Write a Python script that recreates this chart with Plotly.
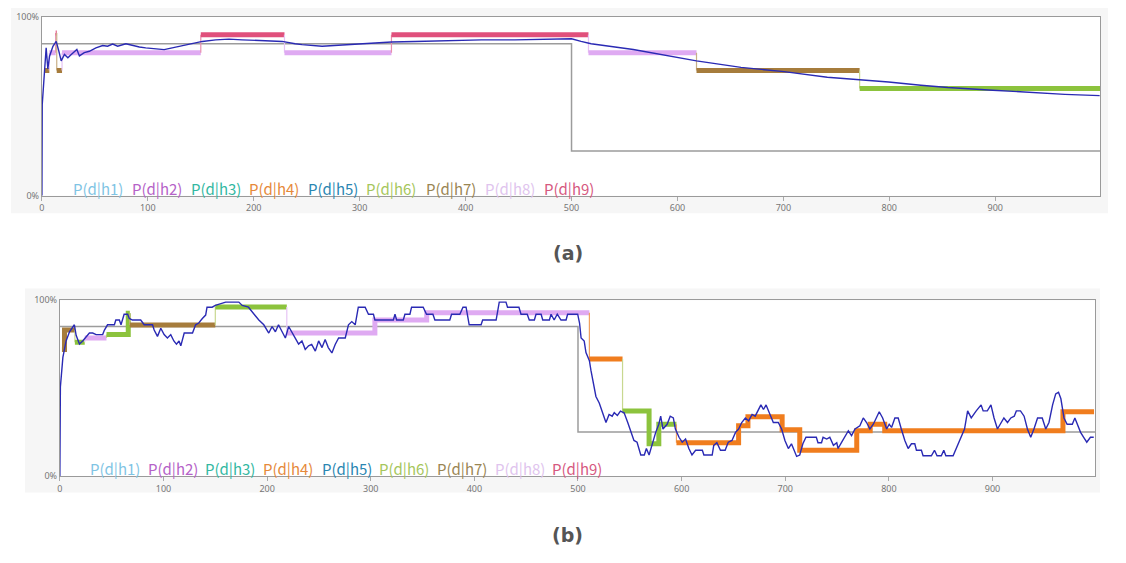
import plotly.graph_objects as go

PAGE_W, PAGE_H = 1126, 563
OFF = 8  # default page body margin
W, H = PAGE_W - OFF, PAGE_H - OFF

# ---------------- data ----------------
hyp_labels = ["P(d|h1)", "P(d|h2)", "P(d|h3)", "P(d|h4)", "P(d|h5)",
              "P(d|h6)", "P(d|h7)", "P(d|h8)", "P(d|h9)"]
x_ticks = [0, 100, 200, 300, 400, 500, 600, 700, 800, 900]
y_ticks = [0, 100]
y_tick_text = ["0%", "100%"]

# true generating probability (step at 500)
true_x = [0, 500, 999]
true_p = [85, 25, 25]

# (a) running average of observations
avg_x = [0, 0.3, 2.5, 4, 5.6, 7.2, 10.4, 13.5, 16, 18.2, 21.3, 24.5, 27.7, 30.8, 33, 35.4, 40,
         44.8, 51, 57.4, 62, 66.8, 71.5, 79.3, 85.6, 92, 98, 107.6, 115.4, 123, 132.7, 142,
         151.5, 164, 176.6, 189, 201.7, 214, 226.8, 239, 245.6, 264.5, 289.6, 314.6, 330,
         352.3, 383.7, 415, 446.4, 477.8, 496.6, 500, 509, 518.5, 558.3, 618, 660, 700.7,
         741.5, 771.4, 799.3, 829.8, 855.3, 897.7, 931.7, 965.6, 998.6]
avg_p = [0, 51, 70, 82.7, 70.9, 78, 83.6, 86.3, 80.8, 75.4, 79, 77.2, 79, 80.8, 81.8, 78.2, 80,
         80.8, 82.7, 84, 83.6, 84.8, 83.6, 85, 84, 83.2, 82.7, 82, 81.7, 82.7, 84, 85,
         86.3, 87.2, 87.6, 87.2, 86.8, 86.3, 86.3, 85, 84.5, 83.6, 84.5, 85.4, 86,
         86.3, 86.8, 87.2, 87.2, 87.6, 88.1, 87.8, 86.3, 85, 81.8, 75.4, 71.8, 69.4,
         66.3, 65, 63.6, 61.8, 60.5, 59, 57.8, 56.7, 56]

# (a) most probable hypothesis, as step segments
a_seg_start = [2, 7, 13, 14, 19, 150, 229, 330, 516, 618, 772]
a_seg_end = [7, 13, 14, 19, 150, 229, 330, 516, 618, 772, 999]
a_seg_level = [70, 80, 91, 70, 80, 90, 80, 90, 80, 70, 60]
a_seg_hyp = [7, 8, 9, 7, 8, 9, 8, 9, 8, 7, 6]

# (b) moving-window average (x, %)
window_points = [
    (0, 0), (0.5, 50.7), (2.9, 67.4), (6, 76.8), (9.3, 82), (14, 86), (15.7, 80), (18.9, 75),
    (22, 76.8), (25.3, 79.4), (28.5, 81.3), (31.7, 81.3), (35, 80.4), (41.3, 80.4), (43, 83),
    (46, 86), (52.6, 86), (54, 88.7), (57.4, 88.7), (59, 86), (62, 92), (65.4, 92), (67, 89.6),
    (70, 88.7), (78, 88.7), (81.4, 86), (89.4, 86), (91, 83), (94.2, 79.4), (97.4, 84),
    (100.6, 80.4), (103.8, 78.5), (107, 80.4), (110, 76.8), (112.5, 75), (115, 76.8),
    (116.7, 74), (120, 81.3), (128, 81.3), (131, 86), (134, 87), (137.5, 89.6), (140.7, 91.5),
    (142, 96), (147, 96), (150, 97), (160, 98.9), (172.7, 98.9), (176, 97), (182, 96),
    (187, 92), (192, 88.7), (196.8, 86), (200, 83), (201.6, 81.3), (204.8, 85), (208, 82),
    (211, 86), (214.4, 82), (217.6, 78.5), (220.8, 85), (224, 82), (227, 78.5), (230.4, 75),
    (233.6, 76.8), (236.8, 72), (240, 74), (243, 74.8), (246.5, 71), (249.7, 76.8), (253, 73),
    (256, 77.6), (259, 73), (262.5, 70), (265.7, 74.8), (269, 78.5), (275.4, 78.5),
    (278.5, 86), (281.7, 87.8), (285, 86), (288, 96), (294.6, 96), (297.8, 92), (302.6, 92),
    (304, 88.7), (321.8, 88.7), (323.4, 92), (325, 88.7), (331.4, 88.7), (333, 92),
    (337.8, 92), (339.4, 96), (350.6, 96), (353.8, 92), (360, 92), (361.9, 88.7),
    (376.3, 88.7), (378, 92), (386, 92), (389, 96), (392, 96), (395, 86), (406.5, 86),
    (408, 88.7), (421, 88.7), (424, 98.9), (430.5, 98.9), (432, 96), (443, 96), (445, 92),
    (451, 92), (453, 88.7), (457.9, 88.7), (459.5, 92), (464.4, 92), (466, 88.7),
    (472.4, 88.7), (474, 92), (477, 88.7), (480, 92), (483.6, 88.7), (488.5, 88.7),
    (490, 92), (499.7, 92), (501.5, 87), (503, 78.5), (506, 76.7), (507.7, 70.2),
    (511, 65.6), (512.5, 60), (515.7, 50.7), (517.3, 45.2), (520.5, 41.5), (523.7, 35.9),
    (527, 30.4), (530, 35), (533, 34), (535, 36), (538, 34.4), (541, 36.9), (544.5, 35.9),
    (548, 30.4), (551, 24.8), (554, 20.2), (557, 19.2), (560.6, 11.9), (564, 11.9),
    (566, 15.6), (568.6, 11.9), (571.8, 19.2), (575, 24.8), (578, 29.4), (579.8, 34),
    (582, 26.7), (586, 29.4), (589, 34), (592, 33), (594, 26.7), (597.5, 22), (600.6, 19.2),
    (603.8, 21), (607, 15.6), (610, 11.9), (613.5, 14.6), (620, 14.6), (621.5, 11.9),
    (629.5, 11.9), (631, 17.4), (634, 18.9), (637.5, 14.6), (642, 14.6), (645, 19.2),
    (648.6, 20.2), (652, 24.8), (655, 26.7), (658, 30.4), (661.5, 33), (664.7, 31.3),
    (668, 35), (671, 34), (674, 37.8), (676.5, 40.4), (679, 37.8), (681.5, 40.4),
    (684.6, 35.9), (688.5, 30.4), (693.3, 30.4), (696.5, 26.7), (699.7, 20.2), (703, 15.6),
    (706, 18.3), (711, 11.1), (714, 11.9), (717, 18.3), (720, 22), (730, 22), (731.6, 18.9),
    (735, 18.9), (736.5, 22), (740, 21), (743, 22), (746.5, 17.4), (749.7, 18.9),
    (751, 15.6), (754.5, 19.2), (757.7, 22.9), (760.9, 25.7), (764, 22.9), (767.3, 26.7),
    (772, 28.5), (775.3, 33), (778.5, 30.4), (781.7, 26.7), (785, 29.4), (788, 33),
    (790.7, 36.5), (794, 33), (797.9, 26.7), (800.3, 29.4), (802.6, 27.6), (805.8, 33),
    (809, 33), (812, 26.7), (815.4, 20.2), (818.6, 15.6), (821.8, 18.3), (825, 18.3),
    (826.6, 14.6), (831.4, 14.6), (833, 11.5), (841, 11.5), (844, 14.6), (846.5, 11.5),
    (850.6, 11.5), (853, 14.6), (855, 11.5), (862, 11.5), (865, 15.6), (868, 18.9),
    (871, 22.9), (873, 26.7), (876, 37), (879.5, 33), (884.3, 37), (889, 40.4), (891, 37),
    (895, 37), (898.5, 40.4), (901.5, 33), (904.8, 26.7), (908, 30.4), (911, 33),
    (914.5, 30.4), (917.7, 33), (921, 34), (923, 37), (927, 37), (930.5, 34), (933.7, 26.7),
    (936.9, 22), (940, 26.7), (943.5, 33), (948, 33), (951.4, 26.7), (954.5, 30.4),
    (958, 40.4), (961, 46.7), (963.7, 47.6), (966, 43.9), (969, 33), (972, 29.4),
    (977, 29.4), (979.5, 33), (982, 29.4), (985, 24.8), (988, 22), (991, 19.2),
    (994.5, 22), (997.7, 22),
]

# (b) most probable hypothesis, as step segments
b_seg_start = [2, 4.5, 14.5, 24, 45, 66, 67.5, 150, 219, 304, 354, 511, 543, 568.6, 578, 595,
               655, 664, 697, 714, 769, 782, 796, 968]
b_seg_end = [4.5, 14.5, 24, 45, 66, 67.5, 150, 219, 304, 354, 511, 543, 568.6, 578, 595, 655,
             664, 697, 714, 769, 782, 796, 968, 998]
b_seg_level = [72, 83, 76, 78.5, 80.4, 92.6, 85.9, 96.1, 81.3, 88.7, 92.8, 66.5, 36.9, 18.3,
               29.4, 18.9, 28.5, 33.7, 26.3, 14.6, 25.7, 29.4, 25.7, 36.5]
b_seg_hyp = [7, 7, 6, 8, 6, 6, 7, 6, 8, 8, 8, 4, 6, 6, 6, 4, 4, 4, 4, 4, 4, 4, 4, 4]

# ---------------- styles ----------------
label_colors = {1: "#7fc4e4", 2: "#b562c8", 3: "#33b8a2", 4: "#e6893a", 5: "#2a86b2",
                6: "#a6c65c", 7: "#9a8553", 8: "#e0c4ee", 9: "#d6597f"}
step_colors = {4: "#f07d1e", 6: "#8cc33d", 7: "#a67c3c", 8: "#dfaaf2", 9: "#e0507c"}
thin_colors = {4: "#f0a060", 6: "#c8d890", 7: "#c8b088", 8: "#e6c4f4", 9: "#e890ae"}
BLUE = "#2a2ab4"
GRAY = "#9c9c9c"


def px_x(p):
    return (p - OFF) / W


def px_y(p):
    return 1 - (p - OFF) / H


panels = {
    "a": dict(x0=39, x1=1100, y0=10, y1=193, bg=(8, 0, 1108, 211), xa="x", ya="y",
              label_x=[68, 127, 186, 245, 304, 362, 422, 481, 540], label_y=186, cap_y=252),
    "b": dict(x0=57, x1=1095, y0=300, y1=480, bg=(22, 288, 1100, 497), xa="x2", ya="y2",
              label_x=[85, 143, 201, 259, 318, 375, 433, 491, 548], label_y=472, cap_y=540),
}

fig = go.Figure()


def add_steps(starts, ends, levels, hyps, xa, ya):
    runs = []
    for s, e, lv, h in zip(starts, ends, levels, hyps):
        if runs and runs[-1]["h"] == h:
            runs[-1]["x"] += [s, e]
            runs[-1]["y"] += [lv, lv]
        else:
            runs.append(dict(h=h, x=[s, e], y=[lv, lv]))
    prev = None
    for r in runs:
        if prev is not None:
            fig.add_trace(go.Scatter(x=[r["x"][0], r["x"][0]], y=[prev["y"][-1], r["y"][0]],
                                     mode="lines", line=dict(color=thin_colors[r["h"]], width=1.2),
                                     xaxis=xa, yaxis=ya, showlegend=False, hoverinfo="skip"))
        fig.add_trace(go.Scatter(x=r["x"], y=r["y"], mode="lines",
                                 line=dict(color=step_colors[r["h"]], width=5),
                                 xaxis=xa, yaxis=ya, showlegend=False, hoverinfo="skip"))
        prev = r


# panel (a)
fig.add_trace(go.Scatter(x=true_x, y=true_p, mode="lines", line=dict(color=GRAY, width=1.5, shape="hv"),
                         xaxis="x", yaxis="y", showlegend=False))
add_steps(a_seg_start, a_seg_end, a_seg_level, a_seg_hyp, "x", "y")
fig.add_trace(go.Scatter(x=avg_x, y=avg_p, mode="lines", line=dict(color=BLUE, width=1.4),
                         xaxis="x", yaxis="y", showlegend=False))

# panel (b)
fig.add_trace(go.Scatter(x=true_x, y=true_p, mode="lines", line=dict(color=GRAY, width=1.5, shape="hv"),
                         xaxis="x2", yaxis="y2", showlegend=False))
add_steps(b_seg_start, b_seg_end, b_seg_level, b_seg_hyp, "x2", "y2")
fig.add_trace(go.Scatter(x=[p[0] for p in window_points], y=[p[1] for p in window_points],
                         mode="lines", line=dict(color=BLUE, width=1.4),
                         xaxis="x2", yaxis="y2", showlegend=False))

shapes = []
annotations = []
axis_common = dict(showline=True, mirror=True, linecolor="#9a9a9a", linewidth=1,
                   showgrid=False, zeroline=False,
                   tickfont=dict(family="Noto Sans", size=9, color="#777777"))
layout_axes = {}
for key, p in panels.items():
    bx0, by0, bx1, by1 = p["bg"]
    shapes.append(dict(type="rect", xref="paper", yref="paper", x0=px_x(bx0), x1=px_x(bx1),
                       y0=px_y(by1), y1=px_y(by0), fillcolor="#f6f6f6", line=dict(width=0),
                       layer="below"))
    shapes.append(dict(type="rect", xref="paper", yref="paper", x0=px_x(p["x0"]), x1=px_x(p["x1"]),
                       y0=px_y(p["y1"]), y1=px_y(p["y0"]), fillcolor="#ffffff", line=dict(width=0),
                       layer="below"))
    suffix = "" if key == "a" else "2"
    layout_axes["xaxis" + suffix] = dict(
        domain=[px_x(p["x0"]), px_x(p["x1"])], range=[0, 999], anchor="y" + suffix,
        tickvals=x_ticks, ticks="outside", ticklen=4, tickcolor="#aaaaaa", **axis_common)
    layout_axes["yaxis" + suffix] = dict(
        domain=[px_y(p["y1"]), px_y(p["y0"])], range=[0, 100], anchor="x" + suffix,
        tickvals=y_ticks, ticktext=y_tick_text, ticks="", **axis_common)
    for i, lab in enumerate(hyp_labels):
        annotations.append(dict(text=lab, xref="paper", yref="paper", x=px_x(p["label_x"][i]),
                                y=px_y(p["label_y"]), xanchor="left", yanchor="middle",
                                showarrow=False,
                                font=dict(family="Noto Sans CJK JP", size=15,
                                          color=label_colors[i + 1])))
    annotations.append(dict(text="<b>(%s)</b>" % key, xref="paper", yref="paper", x=px_x(566),
                            y=px_y(p["cap_y"]), xanchor="center", yanchor="middle", showarrow=False,
                            font=dict(family="DejaVu Sans", size=19, color="#555555")))

fig.update_layout(width=W, height=H, margin=dict(l=0, r=0, t=0, b=0),
                  paper_bgcolor="#ffffff", plot_bgcolor="#ffffff",
                  shapes=shapes, annotations=annotations, showlegend=False, **layout_axes)

fig.write_html("out.html")
